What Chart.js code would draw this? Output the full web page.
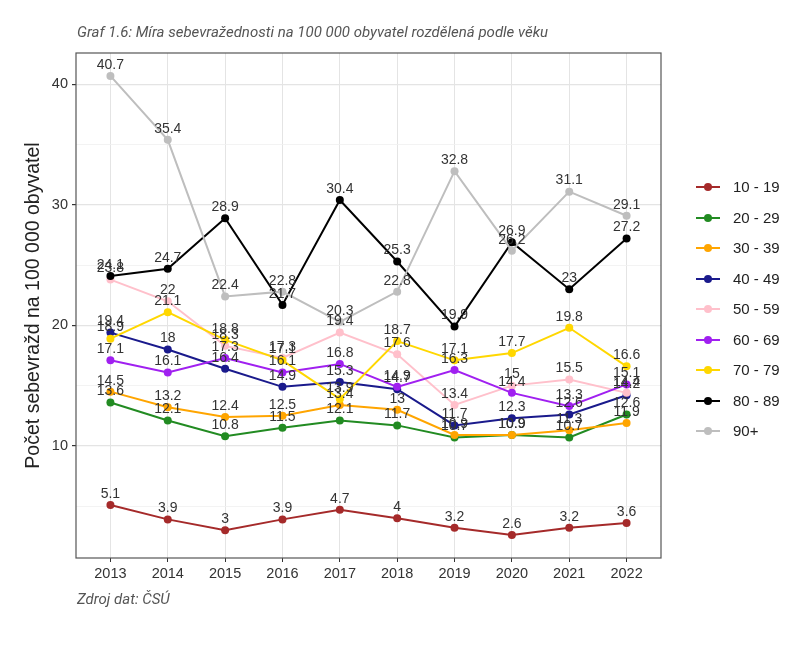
<!DOCTYPE html>
<html>
<head>
<meta charset="utf-8">
<script src="https://cdn.jsdelivr.net/npm/chart.js@4.4.0/dist/chart.umd.min.js"></script>
<style>
  body { margin: 0; background: #fff; }
  #wrap { position: relative; width: 804px; height: 652px; }
  #pippo { position: absolute; left: 0; top: 0; }
  .note { position: absolute; left: 77px; font: italic 15px Roboto, sans-serif; color: #555; white-space: nowrap; }
  #legend { position: absolute; left: 0; top: 0; }
  .item { position: absolute; left: 696px; height: 20px; font: 15px "Liberation Sans", Arial, sans-serif; color: #222; }
  .item .ln { position: absolute; left: 0; top: 9px; width: 24px; height: 2px; }
  .item .dot { position: absolute; left: 8px; top: 6px; width: 8px; height: 8px; border-radius: 50%; }
  .item span { position: absolute; left: 37px; top: 1px; white-space: nowrap; }
</style>
</head>
<body>
<div id="wrap">
  <canvas id="pippo" width="804" height="652"></canvas>
  <div class="note" style="top:23px">Graf 1.6: Míra sebevražednosti na 100 000 obyvatel rozdělená podle věku</div>
  <div class="note" style="top:590px">Zdroj dat: ČSÚ</div>
  <div id="legend"></div>
</div>
<script>
const years = ['2013', '2014', '2015', '2016', '2017', '2018', '2019', '2020', '2021', '2022'];
const groups = ['10 - 19', '20 - 29', '30 - 39', '40 - 49', '50 - 59', '60 - 69', '70 - 79', '80 - 89', '90+'];

const age10 = [5.1, 3.9, 3.0, 3.9, 4.7, 4.0, 3.2, 2.6, 3.2, 3.6];
const age20 = [13.6, 12.1, 10.8, 11.5, 12.1, 11.7, 10.7, 10.9, 10.7, 12.6];
const age30 = [14.5, 13.2, 12.4, 12.5, 13.4, 13.0, 10.9, 10.9, 11.3, 11.9];
const age40 = [19.4, 18.0, 16.4, 14.9, 15.3, 14.7, 11.7, 12.3, 12.6, 14.2];
const age50 = [23.8, 22.0, 18.3, 17.3, 19.4, 17.6, 13.4, 15.0, 15.5, 14.4];
const age60 = [17.1, 16.1, 17.3, 16.1, 16.8, 14.9, 16.3, 14.4, 13.3, 15.1];
const age70 = [18.9, 21.1, 18.8, 17.1, 13.9, 18.7, 17.1, 17.7, 19.8, 16.6];
const age80 = [24.1, 24.7, 28.9, 21.7, 30.4, 25.3, 19.9, 26.9, 23.0, 27.2];
const age90 = [40.7, 35.4, 22.4, 22.8, 20.3, 22.8, 32.8, 26.2, 31.1, 29.1];

const yTicks = [10, 20, 30, 40];
const yMinor = [5, 15, 25, 35];

const series = [age10, age20, age30, age40, age50, age60, age70, age80, age90];
const colors = ['#A52A2A', '#228B22', '#FFA500', '#1a1a8c', '#FFC0CB', '#A020F0', '#FFD700', '#000000', '#BEBEBE'];

const axisFont = { family: '"Liberation Sans", Arial, sans-serif', size: 14.5 };

// labels above each point
const pointLabels = {
  id: 'pointLabels',
  afterDatasetsDraw(chart) {
    const ctx = chart.ctx;
    ctx.save();
    ctx.font = '14px "Liberation Sans", Arial, sans-serif';
    ctx.fillStyle = '#333';
    ctx.textAlign = 'center';
    ctx.textBaseline = 'middle';
    chart.data.datasets.forEach((ds, i) => {
      chart.getDatasetMeta(i).data.forEach((pt, j) => {
        ctx.fillText(String(ds.data[j].y), pt.x, pt.y - 11);
      });
    });
    ctx.restore();
  }
};

// ggplot like box round the panel
const panelBorder = {
  id: 'panelBorder',
  afterDraw(chart) {
    const a = chart.chartArea;
    const ctx = chart.ctx;
    ctx.save();
    ctx.strokeStyle = '#555';
    ctx.lineWidth = 1.2;
    ctx.strokeRect(a.left, a.top, a.right - a.left, a.bottom - a.top);
    ctx.restore();
  }
};

function initChart() {
  const canvas = document.getElementById('pippo');

  const datasets = series.map((vals, i) => ({
    label: groups[i],
    data: vals.map((v, j) => ({ x: j, y: v })),
    borderColor: colors[i],
    backgroundColor: colors[i],
    borderWidth: 2,
    pointRadius: 4,
    pointBorderWidth: 0,
    pointBackgroundColor: colors[i],
    tension: 0,
    order: series.length - i
  }));

  new Chart(canvas, {
    type: 'line',
    data: { datasets: datasets },
    options: {
      responsive: false,
      animation: false,
      layout: { padding: { left: 22, right: 143, top: 53, bottom: 64 } },
      plugins: {
        legend: { display: false },
        tooltip: { enabled: false }
      },
      scales: {
        x: {
          type: 'linear',
          min: -0.6,
          max: years.length - 0.4,
          afterBuildTicks: s => { s.ticks = years.map((_, i) => ({ value: i })); },
          afterFit: s => { s.height = 30; },
          ticks: {
            callback: v => years[v],
            autoSkip: false,
            maxRotation: 0,
            padding: 3,
            font: axisFont,
            color: '#333'
          },
          grid: { color: '#e4e4e4', lineWidth: 1, tickColor: '#333', tickLength: 4 },
          border: { display: false }
        },
        y: {
          min: 0.695,
          max: 42.605,
          afterBuildTicks: s => {
            s.ticks = yMinor.concat(yTicks).sort((a, b) => a - b).map(v => ({ value: v }));
          },
          afterFit: s => { s.width = 54; },
          ticks: {
            callback: v => (yTicks.includes(v) ? v : ''),
            padding: 4,
            font: axisFont,
            color: '#333'
          },
          grid: {
            color: c => (yTicks.includes(c.tick.value) ? '#e4e4e4' : '#f0f0f0'),
            lineWidth: c => (yTicks.includes(c.tick.value) ? 1.2 : 0.8),
            tickColor: c => (yTicks.includes(c.tick.value) ? '#333' : 'rgba(0,0,0,0)'),
            tickLength: 4
          },
          border: { display: false },
          title: {
            display: true,
            text: 'Počet sebevražd na 100 000 obyvatel',
            font: { family: '"Liberation Sans", Arial, sans-serif', size: 19.5 },
            color: '#222',
            padding: 0
          }
        }
      }
    },
    plugins: [pointLabels, panelBorder]
  });

  // legend on the right, same look as ggplot keys
  const legend = document.getElementById('legend');
  groups.forEach((g, i) => {
    const item = document.createElement('div');
    item.className = 'item';
    item.style.top = (177 + i * 30.5) + 'px';
    item.innerHTML = '<div class="ln" style="background:' + colors[i] + '"></div>' +
      '<div class="dot" style="background:' + colors[i] + '"></div><span>' + g + '</span>';
    legend.appendChild(item);
  });
}

initChart();
</script>
</body>
</html>
